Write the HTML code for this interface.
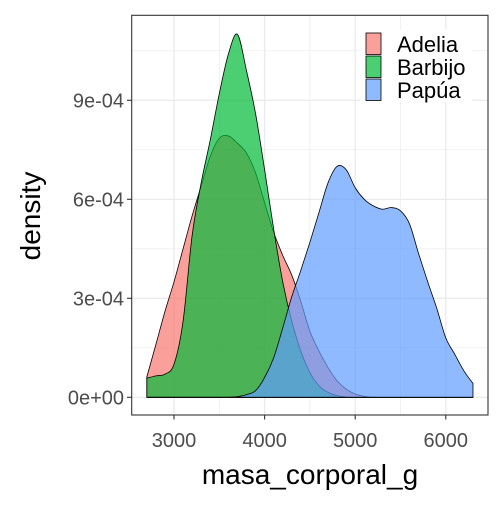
<!DOCTYPE html>
<html><head><meta charset="utf-8"><style>
body{margin:0;background:#fff}
svg text{font-family:"Liberation Sans",Arial,sans-serif}
</style></head><body>
<svg id="chart" width="504" height="504">
<rect x="0" y="0" width="504" height="504" fill="#fff"/>
<g id="grid"></g>
<g id="areas"></g>
<rect x="131.7" y="15.3" width="356.3" height="399.7" fill="none" stroke="#333" stroke-width="1.1"/>
<g id="axes"></g>
<text x="310" y="484" font-size="28" text-anchor="middle" fill="#000">masa_corporal_g</text>
<text transform="translate(40,216) rotate(-90)" font-size="28" text-anchor="middle" fill="#000">density</text>
<g id="legend"></g>
</svg>
<script>
const xs=[2700,2800,2900,3000,3100,3200,3300,3400,3500,3600,3700,3800,3900,4000,4100,4200,4300,4400,4500,4600,4700,4800,4900,5000,5100,5200,5300,5400,5500,5600,5700,5800,5900,6000,6100,6200,6300];
const adelia=[0.62,1.6,2.6,3.5,4.5,5.5,6.4,7.3,7.85,7.92,7.7,7.4,6.8,5.9,5.0,4.3,3.7,2.9,2.0,1.4,0.9,0.5,0.25,0.1,0.03,0,0,0,0,0,0,0,0,0,0,0,0];
const barbijo=[0.58,0.65,0.7,1.0,2.3,4.9,6.5,7.8,9.2,10.4,11.0,9.9,8.6,6.9,5.1,3.5,2.3,1.4,0.75,0.35,0.15,0.05,0.01,0,0,0,0,0,0,0,0,0,0,0,0,0,0];
const papua=[0,0,0,0,0,0,0,0,0,0,0.02,0.08,0.2,0.6,1.2,2.1,3.05,3.85,4.7,5.6,6.5,7.0,6.9,6.35,6.0,5.8,5.7,5.75,5.65,5.25,4.35,3.5,2.7,1.8,1.3,0.8,0.42];
const seriesNames=["Adelia","Barbijo","Papúa"];
const seriesColors=["#F8766D","#00BA38","#619CFF"];
const xTicks=[3000,4000,5000,6000];
const yTicks=[0,3,6,9];
const yTickLabels=["0e+00","3e-04","6e-04","9e-04"];
const NS="http://www.w3.org/2000/svg";
const X=v=>174+(v-3000)*0.0906;
const Y=v=>397.3-v*33;
function mk(tag,attrs,parent){const e=document.createElementNS(NS,tag);for(const k in attrs)e.setAttribute(k,attrs[k]);parent.appendChild(e);return e;}
const grid=document.getElementById('grid');
[3500,4500,5500].forEach(v=>{const l=mk('line',{x1:X(v),x2:X(v),y1:15.3,y2:415,stroke:'#ebebeb','stroke-width':0.7},grid);

});
[1.5,4.5,7.5,10.5].forEach(v=>{const l=mk('line',{x1:131.7,x2:488,y1:Y(v),y2:Y(v),stroke:'#ebebeb','stroke-width':0.7},grid);

});
xTicks.forEach(v=>{const l=mk('line',{x1:X(v),x2:X(v),y1:15.3,y2:415,stroke:'#ebebeb','stroke-width':1.4},grid);

});
yTicks.forEach(v=>{const l=mk('line',{x1:131.7,x2:488,y1:Y(v),y2:Y(v),stroke:'#ebebeb','stroke-width':1.4},grid);

});
const areas=document.getElementById('areas');
[adelia,barbijo,papua].forEach((s,i)=>{
  const pts=xs.map((x,j)=>[X(x),Y(s[j])]);
  let d='M'+X(xs[0])+','+Y(0)+' L'+pts[0][0]+','+pts[0][1];
  for(let j=0;j<pts.length-1;j++){
    const p0=pts[Math.max(j-1,0)],p1=pts[j],p2=pts[j+1],p3=pts[Math.min(j+2,pts.length-1)];
    const c1=[p1[0]+(p2[0]-p0[0])/6,Math.min(Y(0),p1[1]+(p2[1]-p0[1])/6)];
    const c2=[p2[0]-(p3[0]-p1[0])/6,Math.min(Y(0),p2[1]-(p3[1]-p1[1])/6)];
    d+=' C'+c1.map(v=>v.toFixed(2)).join(',')+' '+c2.map(v=>v.toFixed(2)).join(',')+' '+p2.map(v=>v.toFixed(2)).join(',');
  }
  d+=' L'+X(xs[xs.length-1])+','+Y(0)+' Z';
  const p=mk('path',{d:d,fill:seriesColors[i],'fill-opacity':0.7,stroke:'#000','stroke-width':0.8,'stroke-linejoin':'round'},areas);
  
  
});
const axes=document.getElementById('axes');
xTicks.forEach(v=>{
  const t=mk('line',{x1:X(v),x2:X(v),y1:415,y2:419.5,stroke:'#333','stroke-width':1.1},axes);
  
  
  const tx=mk('text',{x:X(v),y:447,'font-size':20,'text-anchor':'middle',fill:'#4d4d4d'},axes);
  tx.textContent=v;
  
  
});
yTicks.forEach((v,i)=>{
  const t=mk('line',{x1:127,x2:131.7,y1:Y(v),y2:Y(v),stroke:'#333','stroke-width':1.1},axes);
  
  
  const tx=mk('text',{x:124,y:Y(v)+7,'font-size':20,'text-anchor':'end',fill:'#4d4d4d'},axes);
  tx.textContent=yTickLabels[i];
  
  
});
const lg=document.getElementById('legend');
const bg=mk('rect',{x:360,y:30,width:112,height:72,fill:'#fff'},lg);


seriesNames.forEach((n,i)=>{
  const y=33+i*23;
  const r=mk('rect',{x:366,y:y,width:15,height:21.5,fill:seriesColors[i],'fill-opacity':0.7,stroke:'#000','stroke-width':0.8},lg);
  
  
  const t=mk('text',{x:397,y:y+19,'font-size':22,fill:'#000'},lg);
  t.textContent=n;
  
  
});
</script>
</body></html>
